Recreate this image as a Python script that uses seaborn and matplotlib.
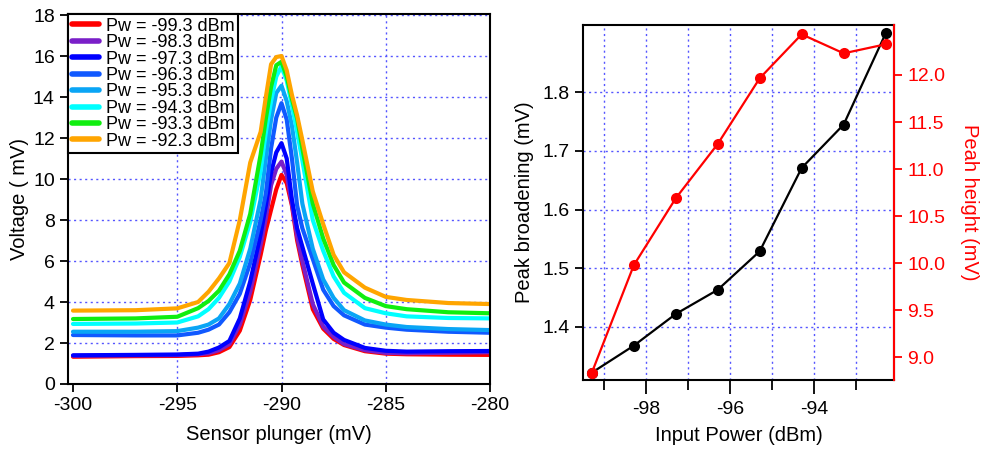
import numpy as np
import pandas as pd
import matplotlib
matplotlib.use("Agg")
import matplotlib.pyplot as plt
from matplotlib.lines import Line2D
from matplotlib.ticker import MultipleLocator, FixedLocator, FormatStrFormatter
import seaborn as sns

# ---------------- data ----------------
sensor_x = [-300, -297, -295, -294, -293.5, -293, -292.5, -292, -291.5, -291, -290.75, -290.5,
            -290.25, -290, -289.75, -289.5, -289.25, -289, -288.5, -288, -287.5, -287, -286,
            -285, -284, -282, -280]

v_m99_3 = [1.33, 1.36, 1.37, 1.40, 1.43, 1.55, 1.80, 2.60, 4.10, 6.30, 7.50, 8.50,
           9.50, 10.20, 9.80, 8.70, 7.00, 5.80, 3.65, 2.70, 2.20, 1.90, 1.60,
           1.48, 1.45, 1.43, 1.42]
v_m98_3 = [1.38, 1.40, 1.41, 1.45, 1.50, 1.65, 1.95, 2.90, 4.50, 6.80, 8.10, 9.70,
           10.50, 10.85, 10.20, 8.80, 7.20, 6.00, 3.90, 2.80, 2.30, 1.95, 1.65,
           1.52, 1.50, 1.52, 1.55]
v_m97_3 = [1.40, 1.42, 1.44, 1.48, 1.58, 1.78, 2.10, 3.20, 5.00, 7.30, 8.70, 10.30,
           11.30, 11.75, 11.00, 9.00, 7.60, 6.70, 4.90, 3.15, 2.50, 2.15, 1.76,
           1.62, 1.58, 1.60, 1.61]
v_m96_3 = [2.39, 2.37, 2.37, 2.50, 2.65, 2.90, 3.50, 4.40, 5.90, 8.00, 9.30, 11.50,
           13.00, 13.70, 12.90, 11.00, 8.70, 7.60, 6.10, 4.60, 3.80, 3.35, 2.90,
           2.75, 2.65, 2.55, 2.50]
v_m95_3 = [2.55, 2.55, 2.58, 2.75, 2.90, 3.20, 3.90, 4.90, 6.60, 9.00, 11.00, 12.90,
           14.20, 14.55, 13.80, 12.60, 10.80, 8.80, 6.60, 5.10, 4.20, 3.60, 3.10,
           2.90, 2.78, 2.68, 2.63]
v_m94_3 = [2.93, 2.95, 3.00, 3.30, 3.65, 4.20, 5.00, 6.20, 7.90, 10.40, 12.30, 13.80,
           15.00, 15.50, 14.80, 13.60, 12.30, 10.90, 8.00, 6.50, 5.25, 4.45, 3.70,
           3.45, 3.30, 3.22, 3.20]
v_m93_3 = [3.17, 3.20, 3.28, 3.70, 4.05, 4.55, 5.35, 6.50, 8.30, 11.20, 12.95, 14.50,
           15.55, 15.72, 15.00, 13.90, 12.95, 11.50, 8.80, 7.10, 5.80, 4.95, 4.20,
           3.80, 3.65, 3.50, 3.45]
v_m92_3 = [3.58, 3.60, 3.69, 4.00, 4.50, 5.15, 5.90, 8.00, 10.80, 12.30, 14.00, 15.60,
           15.95, 16.00, 15.30, 14.10, 13.10, 11.90, 9.40, 7.80, 6.30, 5.45, 4.70,
           4.25, 4.10, 3.95, 3.90]

series_labels = ["Pw = -99.3 dBm", "Pw = -98.3 dBm", "Pw = -97.3 dBm", "Pw = -96.3 dBm",
                 "Pw = -95.3 dBm", "Pw = -94.3 dBm", "Pw = -93.3 dBm", "Pw = -92.3 dBm"]
series_values = [v_m99_3, v_m98_3, v_m97_3, v_m96_3, v_m95_3, v_m94_3, v_m93_3, v_m92_3]
series_colors = ["#ff0000", "#7a1fc8", "#0000ff", "#1059ff", "#0aa5f5", "#00ffff",
                 "#10ee10", "#ffa500"]

input_power = [-99.3, -98.3, -97.3, -96.3, -95.3, -94.3, -93.3, -92.3]
peak_broadening = [1.3215, 1.3676, 1.4217, 1.463, 1.5287, 1.671, 1.745, 1.9005]
peak_height = [8.836, 9.978, 10.69, 11.267, 11.965, 12.432, 12.23, 12.326]

broad_ticks = [1.4, 1.5, 1.6, 1.7, 1.8]
height_ticks = [9.0, 9.5, 10.0, 10.5, 11.0, 11.5, 12.0]

# ---------------- style ----------------
sns.set_style("ticks")
plt.rcParams["font.family"] = ["Liberation Sans", "DejaVu Sans"]
plt.rcParams["axes.unicode_minus"] = False
plt.rcParams["axes.linewidth"] = 1.5
plt.rcParams["text.color"] = "black"
plt.rcParams["axes.labelcolor"] = "black"
plt.rcParams["xtick.color"] = "black"
plt.rcParams["ytick.color"] = "black"
plt.rcParams["xtick.major.width"] = 1.3
plt.rcParams["ytick.major.width"] = 1.3
plt.rcParams["xtick.minor.width"] = 1.3

TICK_FS = 14
LABEL_FS = 14.5
grid_kw = dict(color="#5555ff", linestyle=(0, (1.5, 2.5)), linewidth=1.0)

fig = plt.figure(figsize=(9.84, 4.5), dpi=100)
ax1 = fig.add_axes([68 / 984, 1 - 384 / 450, (490 - 68) / 984, (384 - 14) / 450])
ax2 = fig.add_axes([583 / 984, 1 - 380 / 450, (894 - 583) / 984, (380 - 25) / 450])

# ---------------- left panel ----------------
rows = []
for lab, vals in zip(series_labels, series_values):
    for xv, yv in zip(sensor_x, vals):
        rows.append((lab, xv, yv))
df = pd.DataFrame(rows, columns=["series", "x", "v"])

sns.lineplot(data=df, x="x", y="v", hue="series", hue_order=series_labels,
             palette=series_colors, linewidth=3.0, legend=False, ax=ax1, sort=False)

ax1.set_xlim(-300.24, -280)
ax1.set_ylim(0, 18.05)
ax1.xaxis.set_major_locator(MultipleLocator(5))
ax1.yaxis.set_major_locator(MultipleLocator(2))
ax1.tick_params(axis="both", direction="out", length=6, labelsize=TICK_FS, colors="black")
ax1.set_xlabel("Sensor plunger (mV)", fontsize=LABEL_FS, labelpad=8, color="black")
ax1.set_ylabel("Voltage ( mV)", fontsize=LABEL_FS, labelpad=3, color="black")
ax1.grid(True, **grid_kw)
ax1.set_axisbelow(True)
for s in ax1.spines.values():
    s.set_color("black")
    s.set_linewidth(1.5)
fig.canvas.draw()
for gl, t in zip(ax1.get_xgridlines(), ax1.get_xticks()):
    if t <= -300 or t >= -280:
        gl.set_visible(False)

handles = [Line2D([0], [0], color=c, lw=4) for c in series_colors]
leg = ax1.legend(handles, series_labels, loc="upper left", fontsize=13,
                 frameon=True, fancybox=False, framealpha=1, edgecolor="black",
                 borderaxespad=0, borderpad=0.2, labelspacing=-0.03,
                 handlelength=1.5, handletextpad=0.4, labelcolor="black")
leg.get_frame().set_linewidth(1.5)

# ---------------- right panel ----------------
pdf = pd.DataFrame({"power": input_power, "broad": peak_broadening, "height": peak_height})
sns.lineplot(data=pdf, x="power", y="broad", color="black", marker="o", markersize=8,
             markeredgewidth=0, linewidth=1.6, ax=ax2)
ax2.set_xlim(-99.51, -92.10)
ax2.set_ylim(1.309, 1.915)
ax2.xaxis.set_major_locator(MultipleLocator(2))
ax2.xaxis.set_minor_locator(MultipleLocator(1))
ax2.yaxis.set_major_locator(FixedLocator(broad_ticks))
ax2.yaxis.set_major_formatter(FormatStrFormatter("%.1f"))
ax2.xaxis.set_major_formatter(FormatStrFormatter("%d"))
ax2.tick_params(axis="both", direction="out", length=6, labelsize=TICK_FS, colors="black")
ax2.tick_params(axis="x", which="major", length=10, pad=5)
ax2.tick_params(axis="x", which="minor", length=7)
ax2.grid(True, which="both", **grid_kw)
ax2.set_axisbelow(True)
ax2.set_xlabel("Input Power (dBm)", fontsize=LABEL_FS, labelpad=6, color="black")
ax2.set_ylabel("Peak broadening (mV)", fontsize=LABEL_FS, labelpad=6, color="black")
for s in ax2.spines.values():
    s.set_color("black")
    s.set_linewidth(1.5)

ax3 = ax2.twinx()
sns.lineplot(data=pdf, x="power", y="height", color="#ff0000", marker="o", markersize=8,
             markeredgewidth=0, linewidth=1.6, ax=ax3)
ax3.set_ylim(8.759, 12.531)
ax3.yaxis.set_major_locator(FixedLocator(height_ticks))
ax3.yaxis.set_major_formatter(FormatStrFormatter("%.1f"))
ax3.tick_params(axis="y", direction="out", length=6, labelsize=TICK_FS,
                colors="#ff0000", width=1.3)
ax3.set_ylabel("Peah height (mV)", fontsize=LABEL_FS, color="#ff0000", rotation=270,
               labelpad=24)
ax3.spines["right"].set_color("#ff0000")
ax3.spines["right"].set_linewidth(1.5)
for k in ("left", "top", "bottom"):
    ax3.spines[k].set_visible(False)
ax3.grid(False)

fig.savefig("out.png", dpi=100)
